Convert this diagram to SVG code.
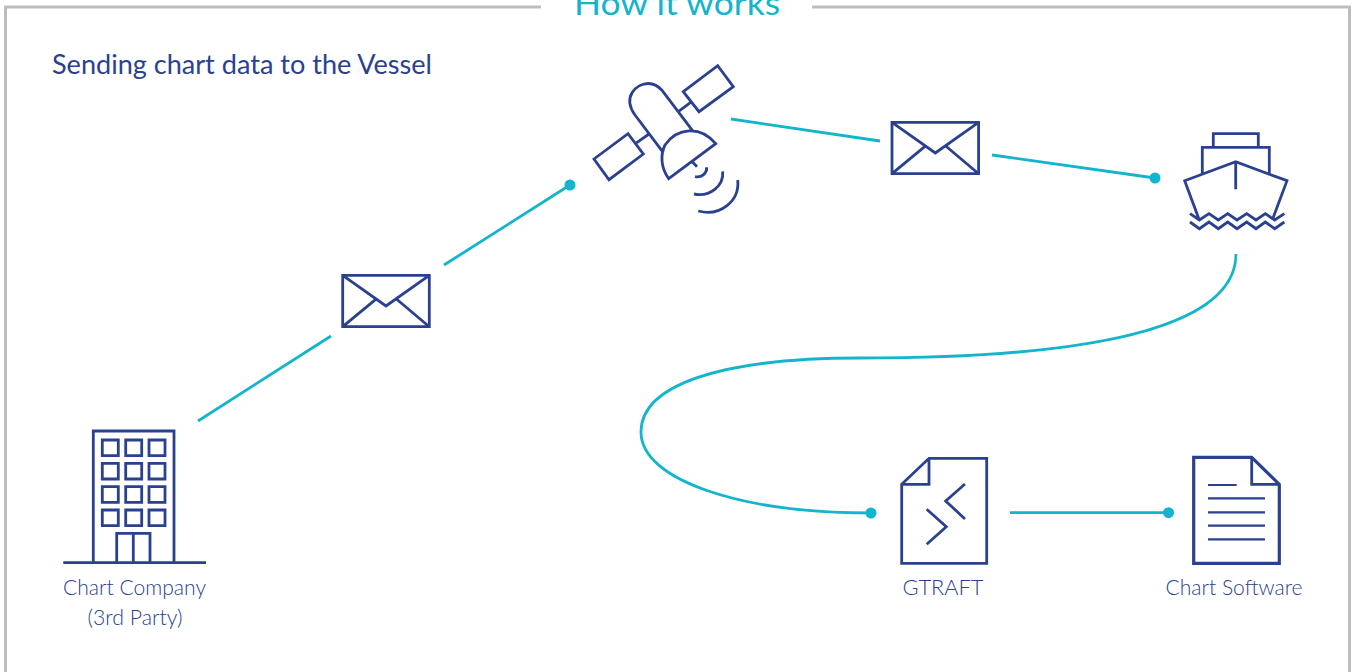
<svg xmlns="http://www.w3.org/2000/svg" width="1353" height="672" viewBox="0 0 1353 672">
<style>
.ic{fill:none;stroke:#2a418f;stroke-width:2.8;stroke-linejoin:miter}
.th{stroke-width:2.2}
.fr{fill:none;stroke:#bdbdbd;stroke-width:3}
.cn{fill:none;stroke:#12b5cb;stroke-width:2.8}
.dot{fill:#12b5cb}
text{font-family:Lato,"Liberation Sans",sans-serif}
.lb{font-size:21px;font-weight:300;fill:#2a418f;text-anchor:middle}
.hd{font-size:27px;fill:#2a418f}
.tt{font-size:32px;fill:#12b5cb}
</style>
<defs>
<g id="env"><path class="ic" d="M342.7 275.3H429.3V326.7H342.7ZM342.7 275.3L386 306L429.3 275.3M342.7 326.7L375.7 299.3M429.3 326.7L396.7 299.3"/></g>
</defs>
<rect width="1353" height="672" fill="#fff"/>
<g id="frame">
<path class="fr" d="M541 7H5.5V672M812 7H1349.5V672"/>
<text class="tt" x="574" y="15" textLength="206" lengthAdjust="spacingAndGlyphs">How it works</text>
<text class="hd" x="52" y="74" textLength="380" lengthAdjust="spacingAndGlyphs">Sending chart data to the Vessel</text>
</g>
<g id="connectors">
<path class="cn" d="M198 421L331 336M444 265L570 185"/>
<circle class="dot" cx="570" cy="185" r="5.5"/>
<path class="cn" d="M731 119L880 141M992 155L1155 178"/>
<circle class="dot" cx="1155" cy="178" r="5.5"/>
<path class="cn" d="M1236 254C1236 320 1120 358 860 358C720 358 641 385 641 432C641 480 740 513 871 513"/>
<circle class="dot" cx="871" cy="513" r="5.5"/>
<path class="cn" d="M1010 512.7H1168"/>
<circle class="dot" cx="1168.5" cy="512.7" r="5.5"/>
</g>
<g id="envelope-1"><use href="#env"/></g>
<g id="envelope-2"><use href="#env" transform="translate(549.3 -153)"/></g>
<g id="satellite">
<path class="ic" d="M683.3 91.7L717.7 65.7L733.3 86.7L699 111.7ZM594 159L628 133.7L643.3 154L609 179.7ZM678.3 111.7L691.7 101.7M635.7 143.3L649 134M663.3 152.7L635 115C622 97 636 83.5 648.5 83.5C654 83.5 658 86 661.7 90L693.3 131.7M668.7 178.7L715.7 143.7C700 125 677 128 665 145C660 155 661 168 668.7 178.7ZM692.3 161.7L697 166.7M695 176.7C702 178 707 173 706.7 167.3M694 194C710 197 724 186 722.7 171.3M698.3 211C720 217 740 201 737.7 180"/>
</g>
<g id="ship">
<path class="ic" d="M1213.3 146.7V133.7H1258.3V146.7M1202.3 173.3V147.3H1269.3V173.3M1199.3 220L1184.7 180.7L1235.7 161.7L1287 180.7L1272.3 220M1235.7 161.7V189.3M1190 213.7L1199.4 220L1209 213.7L1218.3 220L1227.7 213.7L1237 220L1246.7 213.7L1256 220L1265.3 213.7L1274.7 220L1284.3 213.7M1190 222L1199.4 228.7L1209 222L1218.3 228.7L1227.7 222L1237 228.7L1246.7 222L1256 228.7L1265.3 222L1274.7 228.7L1284.3 222"/>
</g>
<g id="chart-company">
<path class="ic" d="M93.3 562.7V431H174V562.7M63.3 562.7H206M116.7 562.7V533.3H150V562.7M133.3 533.3V562.7"/>
<path class="ic" d="M102.3 440h16v15.7h-16zM125.7 440h16v15.7h-16zM149 440h16v15.7h-16zM102.3 463.3h16v15.7h-16zM125.7 463.3h16v15.7h-16zM149 463.3h16v15.7h-16zM102.3 486.7h16v15.7h-16zM125.7 486.7h16v15.7h-16zM149 486.7h16v15.7h-16zM102.3 510h16v15.7h-16zM125.7 510h16v15.7h-16zM149 510h16v15.7h-16z"/>
<text class="lb" x="134.5" y="595" textLength="143" lengthAdjust="spacingAndGlyphs">Chart Company</text>
<text class="lb" x="135" y="625" textLength="95" lengthAdjust="spacingAndGlyphs">(3rd Party)</text>
</g>
<g id="gtraft">
<path class="ic" d="M901.7 484.3L929 458.3H986.7V563.3H901.7ZM929 458.3V484.3H901.7"/>
<path class="ic" d="M965 484L945.7 501L965 519M926.7 509.3L946.3 526.7L926.7 544.3"/>
<text class="lb" x="943" y="595" textLength="81" lengthAdjust="spacingAndGlyphs">GTRAFT</text>
</g>
<g id="chart-software">
<path class="ic" style="stroke-width:3.2" d="M1193.7 457.3H1251.7L1279.3 484.3V563.3H1193.7Z"/>
<path class="ic" d="M1251.7 457.3V484.3H1279.3"/>
<path class="ic th" d="M1208 485H1236.7M1208 498.3H1265M1208 512.3H1265M1208 525.7H1265M1208 539.3H1265"/>
<text class="lb" x="1234" y="595" textLength="137" lengthAdjust="spacingAndGlyphs">Chart Software</text>
</g>
</svg>
